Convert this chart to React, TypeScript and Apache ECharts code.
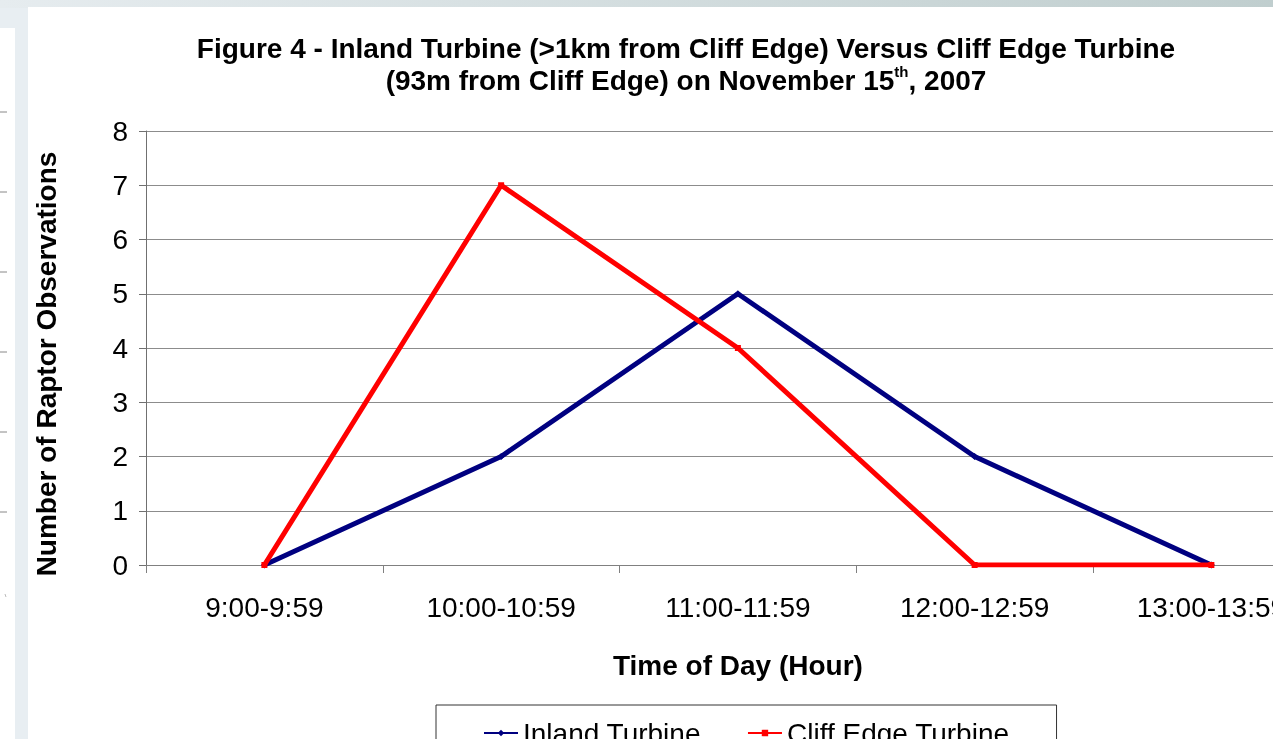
import React, { useEffect, useRef } from "react";
import * as echarts from "echarts";

const categories = ["9:00-9:59", "10:00-10:59", "11:00-11:59", "12:00-12:59", "13:00-13:59"];
const inlandTurbine = [0, 2, 5, 2, 0];
const cliffEdgeTurbine = [0, 7, 4, 0, 0];
const seriesNames = ["Inland Turbine", "Cliff Edge Turbine"];
const yTicks = { min: 0, max: 8, interval: 1 };
const leftStripMarks = [112, 192, 272, 352, 432, 512];

const FONT = "'Liberation Sans', Arial, sans-serif";

export default function App() {
  const ref = useRef<HTMLDivElement>(null);

  useEffect(() => {
    if (!ref.current) return;
    const chart = echarts.init(ref.current, undefined, { renderer: "svg" });

    const graphics: any[] = [
      { type: "rect", z: -10, shape: { x: 0, y: 0, width: 1400, height: 739 }, style: { fill: "#e8eef2" } },
      {
        type: "rect", z: -9, shape: { x: 0, y: 0, width: 1400, height: 8 },
        style: {
          fill: new echarts.graphic.LinearGradient(0, 0, 1, 0, [
            { offset: 0, color: "#e6ecef" },
            { offset: 1, color: "#bccbcb" },
          ]),
        },
      },
      { type: "rect", z: -8, shape: { x: 28, y: 7, width: 1400, height: 740 }, style: { fill: "#ffffff" } },
      { type: "rect", z: -8, shape: { x: 0, y: 28, width: 15, height: 720 }, style: { fill: "#ffffff" } },
      ...leftStripMarks.map((y) => ({
        type: "line", z: -7, shape: { x1: 0, y1: y, x2: 7, y2: y }, style: { stroke: "#888", lineWidth: 1 },
      })),
      { type: "line", z: -7, shape: { x1: 5, y1: 594, x2: 6, y2: 597 }, style: { stroke: "#bbb", lineWidth: 1 } },
      {
        type: "text", x: 46, y: 364, rotation: Math.PI / 2,
        style: {
          text: "Number of Raptor Observations", fontFamily: FONT, fontWeight: "bold", fontSize: 28,
          fill: "#000", align: "center", verticalAlign: "middle",
        },
      },
    ];

    chart.setOption({
      animation: false,
      title: {
        text: "Figure 4 - Inland Turbine (>1km from Cliff Edge) Versus Cliff Edge Turbine\n(93m from Cliff Edge) on November 15{sup|th}, 2007",
        left: 686,
        top: 32,
        textAlign: "center",
        padding: 0,
        textStyle: {
          fontFamily: FONT, fontWeight: "bold", fontSize: 28, lineHeight: 32, color: "#000",
          rich: {
            sup: { fontFamily: FONT, fontWeight: "bold", fontSize: 15, lineHeight: 18, verticalAlign: "top", color: "#000" },
          },
        },
      },
      legend: {
        data: seriesNames,
        left: 436,
        top: 705,
        padding: [14, 47, 14, 47],
        itemGap: 46,
        itemWidth: 34,
        itemHeight: 8,
        borderColor: "#333",
        borderWidth: 1,
        borderRadius: 0,
        textStyle: { fontFamily: FONT, fontSize: 28, color: "#000" },
      },
      grid: { left: 146, top: 131, right: 70.25, bottom: 174, containLabel: false },
      xAxis: {
        type: "category",
        data: categories,
        boundaryGap: true,
        name: "Time of Day (Hour)",
        nameLocation: "middle",
        nameGap: 86,
        nameTextStyle: { fontFamily: FONT, fontWeight: "bold", fontSize: 28, color: "#000" },
        axisLine: { lineStyle: { color: "#808080", width: 1 } },
        axisTick: { show: true, length: 8, interval: 0, lineStyle: { color: "#808080" } },
        axisLabel: { fontFamily: FONT, fontSize: 28, color: "#000", margin: 28, interval: 0 },
        splitLine: { show: false },
      },
      yAxis: {
        type: "value",
        min: yTicks.min,
        max: yTicks.max,
        interval: yTicks.interval,
        axisLine: { show: true, lineStyle: { color: "#707070", width: 1 } },
        axisTick: { show: true, length: 7, lineStyle: { color: "#707070" } },
        axisLabel: { fontFamily: FONT, fontSize: 28, color: "#000", margin: 18 },
        splitLine: { show: true, lineStyle: { color: "#8c8c8c", width: 1 } },
      },
      series: [
        {
          name: seriesNames[0],
          type: "line",
          data: inlandTurbine,
          symbol: "diamond",
          symbolSize: 7,
          itemStyle: { color: "#000080" },
          lineStyle: { color: "#000080", width: 5 },
          z: 3,
        },
        {
          name: seriesNames[1],
          type: "line",
          data: cliffEdgeTurbine,
          symbol: "rect",
          symbolSize: 6,
          itemStyle: { color: "#ff0000" },
          lineStyle: { color: "#ff0000", width: 5 },
          z: 4,
        },
      ],
      graphic: graphics,
    });

    return () => chart.dispose();
  }, []);

  return (
    <div style={{ position: "fixed", left: 0, top: 0, width: 1273, height: 739, overflow: "hidden" }}>
      <div ref={ref} style={{ width: 1400, height: 739 }} />
    </div>
  );
}
